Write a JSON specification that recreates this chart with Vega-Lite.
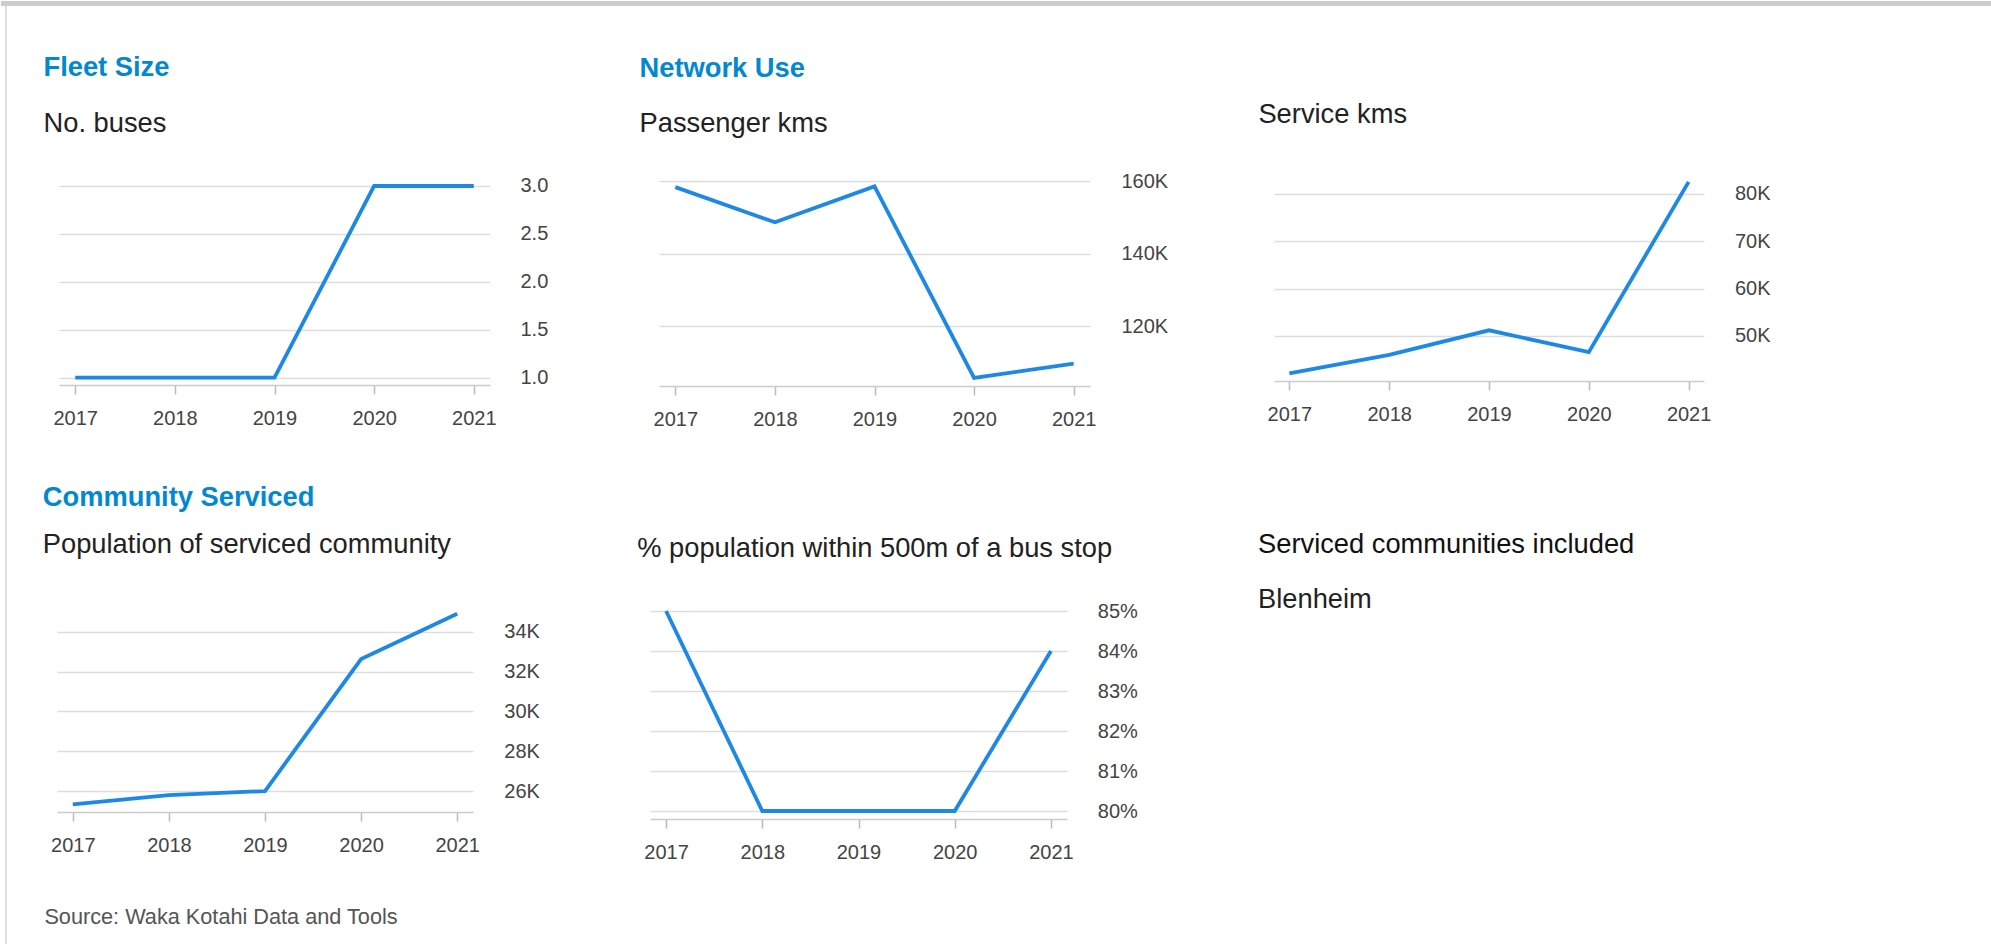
{
  "$schema": "https://vega.github.io/schema/vega-lite/v6.json",
  "padding": 0,
  "background": "#ffffff",
  "autosize": {"type": "pad"},
  "config": {
    "font": "Liberation Sans",
    "view": {"stroke": null},
    "axisX": {"domainColor": "#cccccc", "domainWidth": 1.5, "tickColor": "#bbbbbb", "tickWidth": 1.5, "tickSize": 9, "labelFontSize": 20, "labelColor": "#444444", "labelPadding": 14, "labelAngle": 0, "grid": false, "labelFont": "Liberation Sans"},
    "axisY": {"domain": false, "ticks": false, "grid": true, "gridColor": "#dddddd", "gridWidth": 1.5, "labelFontSize": 20, "labelColor": "#444444", "labelPadding": 30, "labelFont": "Liberation Sans"},
    "title": {"anchor": "start", "frame": "group", "font": "Liberation Sans", "subtitleFont": "Liberation Sans", "fontSize": 27.3, "fontWeight": "bold", "color": "#0288d1", "subtitleFontSize": 27.3, "subtitleColor": "#222222", "subtitleFontWeight": "normal"}
  },
  "datasets": {
    "fleet": [{"year": 2017, "value": 1}, {"year": 2018, "value": 1}, {"year": 2019, "value": 1}, {"year": 2020, "value": 3}, {"year": 2021, "value": 3}],
    "passenger": [{"year": 2017, "value": 158300}, {"year": 2018, "value": 148600}, {"year": 2019, "value": 158500}, {"year": 2020, "value": 105700}, {"year": 2021, "value": 109600}],
    "service": [{"year": 2017, "value": 42100}, {"year": 2018, "value": 46000}, {"year": 2019, "value": 51200}, {"year": 2020, "value": 46600}, {"year": 2021, "value": 82500}],
    "population": [{"year": 2017, "value": 25330}, {"year": 2018, "value": 25800}, {"year": 2019, "value": 26000}, {"year": 2020, "value": 32630}, {"year": 2021, "value": 34900}],
    "coverage": [{"year": 2017, "value": 85}, {"year": 2018, "value": 80}, {"year": 2019, "value": 80}, {"year": 2020, "value": 80}, {"year": 2021, "value": 84}]
  },
  "spacing": 0,
  "bounds": "flush",
  "vconcat": [
    {"width": 1991, "height": 5, "view": {"fill": "#cccccc", "stroke": null}, "data": {"name": "fleet"}, "mark": {"type": "point", "opacity": 0}},
    {
      "spacing": 0,
      "bounds": "flush",
      "hconcat": [
        {"width": 4, "height": 1, "data": {"name": "fleet"}, "mark": {"type": "point", "opacity": 0}},
        {"width": 2, "height": 939, "view": {"fill": "#e0e0e0", "stroke": null}, "data": {"name": "fleet"}, "mark": {"type": "point", "opacity": 0}},
        {
          "spacing": 0,
          "bounds": "flush",
          "vconcat": [
            {"width": 1, "height": 175, "data": {"name": "fleet"}, "mark": {"type": "point", "opacity": 0}},
            {
              "spacing": 0,
              "bounds": "flush",
              "hconcat": [
                {"width": 52, "height": 1, "data": {"name": "fleet"}, "mark": {"type": "point", "opacity": 0}},
                {
                  "width": 431, "height": 204,
                  "data": {"name": "fleet"},
                  "title": {"text": "Fleet Size", "subtitle": "No. buses", "dx": -15.5, "offset": 38.7, "subtitlePadding": 28.2},
                  "mark": {"type": "line", "color": "#1e88e5", "strokeWidth": 3.8},
                  "encoding": {
                    "x": {"field": "year", "type": "ordinal", "scale": {"type": "point", "padding": 0.163}, "axis": {"title": null}},
                    "y": {"field": "value", "type": "quantitative", "scale": {"domain": [0.924, 3.052], "nice": false, "zero": false}, "axis": {"orient": "right", "title": null, "values": [1, 1.5, 2, 2.5, 3], "format": ".1f"}}
                  }
                },
                {"width": 169, "height": 1, "data": {"name": "fleet"}, "mark": {"type": "point", "opacity": 0}},
                {
                  "width": 431, "height": 205,
                  "data": {"name": "passenger"},
                  "title": {"text": "Network Use", "subtitle": "Passenger kms", "dx": -19.5, "offset": 33.7, "subtitlePadding": 28.2},
                  "mark": {"type": "line", "color": "#1e88e5", "strokeWidth": 3.8},
                  "encoding": {
                    "x": {"field": "year", "type": "ordinal", "scale": {"type": "point", "padding": 0.164}, "axis": {"title": null}},
                    "y": {"field": "value", "type": "quantitative", "scale": {"domain": [103450, 160000], "nice": false, "zero": false}, "axis": {"orient": "right", "title": null, "values": [120000, 140000, 160000], "labelExpr": "datum.value / 1000 + 'K'", "labelPadding": 31}}
                  }
                },
                {"width": 184, "height": 1, "data": {"name": "fleet"}, "mark": {"type": "point", "opacity": 0}},
                {
                  "width": 430, "height": 200,
                  "data": {"name": "service"},
                  "title": {"text": "Service kms", "dx": -15.6, "offset": 45.5, "fontWeight": "normal", "color": "#222222"},
                  "mark": {"type": "line", "color": "#1e88e5", "strokeWidth": 3.8},
                  "encoding": {
                    "x": {"field": "year", "type": "ordinal", "scale": {"type": "point", "padding": 0.154}, "axis": {"title": null}},
                    "y": {"field": "value", "type": "quantitative", "scale": {"domain": [40510, 82680], "nice": false, "zero": false}, "axis": {"orient": "right", "title": null, "values": [50000, 60000, 70000, 80000], "labelExpr": "datum.value / 1000 + 'K'", "labelPadding": 30.5}}
                  }
                }
              ]
            },
            {"width": 1, "height": 430, "data": {"name": "fleet"}, "mark": {"type": "point", "opacity": 0}},
            {
              "spacing": 0,
              "bounds": "flush",
              "hconcat": [
                {"width": 50, "height": 1, "data": {"name": "fleet"}, "mark": {"type": "point", "opacity": 0}},
                {
                  "width": 416, "height": 201,
                  "data": {"name": "population"},
                  "title": {"text": "Community Serviced", "subtitle": "Population of serviced community", "dx": -14.2, "offset": 47.4, "subtitlePadding": 20},
                  "mark": {"type": "line", "color": "#1e88e5", "strokeWidth": 3.8},
                  "encoding": {
                    "x": {"field": "year", "type": "ordinal", "scale": {"type": "point", "padding": 0.164}, "axis": {"title": "Source: Waka Kotahi Data and Tools", "titleX": -13.1, "titleY": 111.3, "titleAlign": "left", "titleBaseline": "alphabetic", "titleFontSize": 21.7, "titleFontWeight": "normal", "titleColor": "#555555", "titleFont": "Liberation Sans"}},
                    "y": {"field": "value", "type": "quantitative", "scale": {"domain": [24950, 35040], "nice": false, "zero": false}, "axis": {"orient": "right", "title": null, "values": [26000, 28000, 30000, 32000, 34000], "labelExpr": "datum.value / 1000 + 'K'", "labelPadding": 30.8}}
                  }
                },
                {"width": 177, "height": 1, "data": {"name": "fleet"}, "mark": {"type": "point", "opacity": 0}},
                {
                  "width": 417, "height": 208,
                  "data": {"name": "coverage"},
                  "title": {"text": "% population within 500m of a bus stop", "dx": -12.8, "offset": 38.7, "fontWeight": "normal", "color": "#222222"},
                  "mark": {"type": "line", "color": "#1e88e5", "strokeWidth": 3.8},
                  "encoding": {
                    "x": {"field": "year", "type": "ordinal", "scale": {"type": "point", "padding": 0.167}, "axis": {"title": null}},
                    "y": {"field": "value", "type": "quantitative", "scale": {"domain": [79.8, 85], "nice": false, "zero": false}, "axis": {"orient": "right", "title": null, "values": [80, 81, 82, 83, 84, 85], "labelExpr": "datum.value + '%'", "labelPadding": 30.3}}
                  }
                },
                {"width": 191, "height": 1, "data": {"name": "fleet"}, "mark": {"type": "point", "opacity": 0}},
                {
                  "width": 1, "height": 1,
                  "data": {"name": "fleet"},
                  "title": {"text": "Serviced communities included", "subtitle": "Blenheim", "offset": -5, "subtitlePadding": 27.7, "fontWeight": "normal", "color": "#111111", "subtitleColor": "#222222"},
                  "mark": {"type": "point", "opacity": 0}
                }
              ]
            }
          ]
        }
      ]
    }
  ]
}
